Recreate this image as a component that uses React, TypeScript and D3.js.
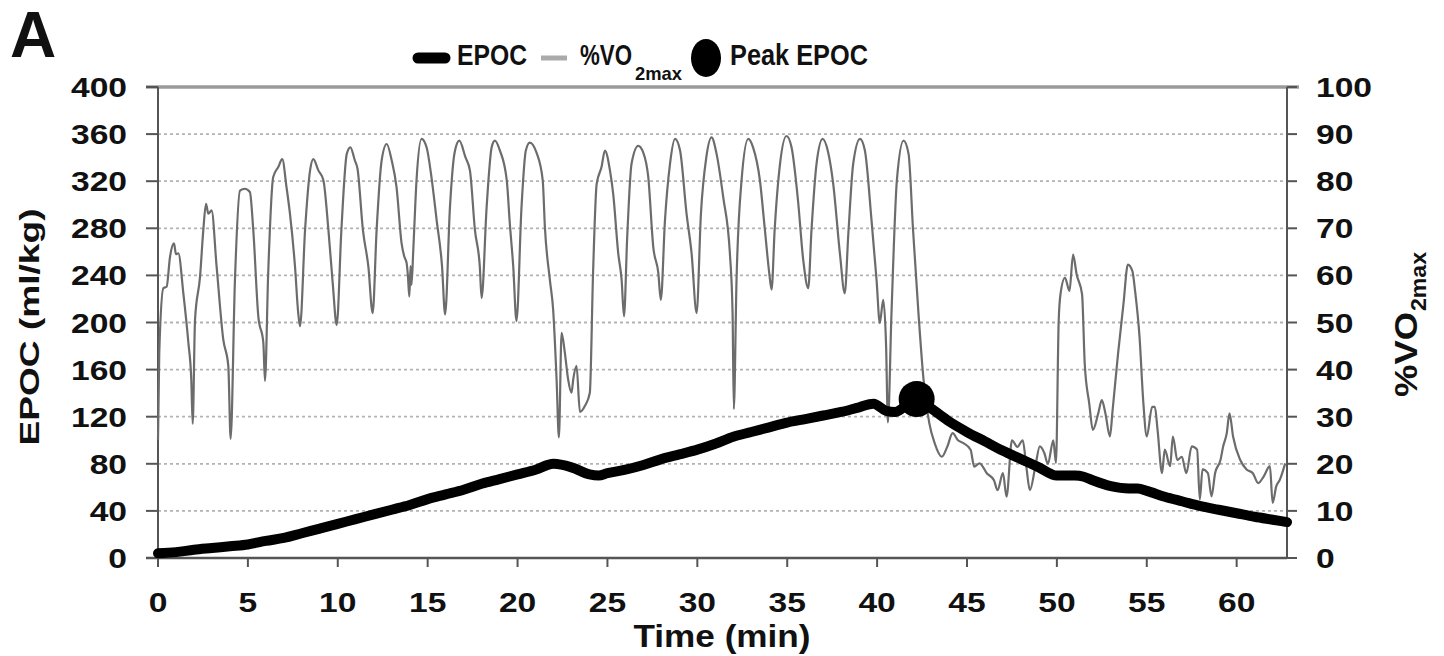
import React from "react";
import * as d3 from "d3";

// ---------- data ----------
const epocTime = [0, 1, 2, 3, 4, 5, 6, 7, 8, 9, 10, 11, 12, 13, 14, 15, 16, 17, 18, 19, 20, 21, 22, 23, 24, 24.5, 25, 26, 27, 28, 29, 30, 31, 32, 33, 34, 35, 36, 37, 38, 39, 39.8, 40.5, 41, 41.5, 42.2, 43, 44, 45, 46, 47, 48, 49, 50, 51, 51.5, 52, 53, 54, 54.5, 55, 56, 57, 58, 59, 60, 61, 62, 62.8];
const epocVal = [4, 5, 7, 8.5, 10, 11.5, 14.5, 17, 21, 25, 29, 33, 37, 41, 45, 50, 54, 58, 63, 67, 71, 75, 80, 77, 71, 70, 72, 75, 79, 84, 88, 92, 97, 103, 107, 111, 115, 118, 121, 124, 128, 131, 125, 124, 128, 135, 127, 116, 107, 99, 91, 84, 77, 70, 70, 69, 66, 61, 59, 59, 57, 52, 48, 44, 41, 38, 35, 32.5, 30.5];

const vo2Time = [0, 0.07, 0.3, 0.48, 0.67, 0.89, 1.0, 1.13, 1.41, 1.69, 1.85, 1.93, 2.06, 2.34, 2.52, 2.67, 2.8, 2.98, 3.26, 3.63, 3.91, 4.04, 4.28, 4.56, 4.83, 5.11, 5.3, 5.58, 5.86, 5.95, 6.13, 6.41, 6.69, 6.91, 7.15, 7.34, 7.62, 7.8, 7.9, 8.18, 8.46, 8.64, 8.92, 9.2, 9.48, 9.72, 9.94, 10.2, 10.5, 10.7, 10.95, 11.1, 11.4, 11.7, 11.94, 12.16, 12.44, 12.72, 13.0, 13.27, 13.55, 13.7, 13.83, 13.9, 13.98, 14.05, 14.1, 14.2, 14.38, 14.66, 14.94, 15.2, 15.5, 15.8, 15.97, 16.24, 16.5, 16.76, 17.1, 17.35, 17.63, 17.9, 18.0, 18.28, 18.56, 18.74, 19.02, 19.4, 19.57, 19.76, 19.94, 20.22, 20.46, 20.68, 21.05, 21.4, 21.52, 21.8, 21.98, 22.17, 22.3, 22.45, 22.63, 22.81, 23.0, 23.1, 23.28, 23.47, 23.75, 24.02, 24.2, 24.4, 24.67, 24.86, 25.14, 25.32, 25.6, 25.79, 25.92, 26.1, 26.34, 26.71, 26.99, 27.27, 27.55, 27.83, 27.97, 28.2, 28.48, 28.76, 29.04, 29.4, 29.68, 29.96, 30.2, 30.5, 30.79, 31.07, 31.44, 31.81, 31.96, 32.03, 32.18, 32.46, 32.83, 33.1, 33.48, 33.76, 34.0, 34.13, 34.3, 34.6, 34.96, 35.24, 35.6, 35.89, 36.17, 36.35, 36.63, 36.97, 37.28, 37.56, 37.93, 38.2, 38.4, 38.67, 39.05, 39.32, 39.69, 39.97, 40.15, 40.34, 40.5, 40.6, 40.8, 41.1, 41.47, 41.75, 42.0, 42.3, 42.58, 42.9, 43.2, 43.6, 43.9, 44.2, 44.5, 44.8, 45.2, 45.4, 45.7, 46.1, 46.5, 46.7, 47.0, 47.2, 47.5, 47.8, 48.1, 48.3, 48.5, 48.8, 49.05, 49.3, 49.5, 49.8, 49.95, 50.1, 50.2, 50.45, 50.7, 50.9, 51.1, 51.4, 51.55, 51.8, 52.0, 52.3, 52.5, 52.7, 52.95, 53.1, 53.4, 53.7, 53.95, 54.2, 54.35, 54.6, 54.8, 55.0, 55.3, 55.45, 55.6, 55.85, 56.0, 56.3, 56.45, 56.7, 56.95, 57.2, 57.5, 57.8, 57.95, 58.1, 58.4, 58.6, 58.8, 59.1, 59.25, 59.45, 59.6, 59.8, 60.2, 60.55, 60.9, 61.2, 61.5, 61.85, 62.0, 62.2, 62.4, 62.7];
const vo2Pct = [25, 43.6, 57.3, 57.6, 64, 66.8, 64.5, 64.7, 56.2, 45.7, 38, 28.5, 50.6, 59.8, 69.6, 75.2, 73.1, 73.8, 61.9, 46.4, 40.8, 25.3, 59, 78, 78.4, 77.7, 69.6, 51.3, 45.7, 37.6, 60.5, 80.9, 83, 84.7, 78.7, 73.1, 61.9, 52, 49.2, 69.6, 82.3, 84.7, 82.3, 80.2, 69.6, 58.3, 49.5, 69.6, 85.8, 87.2, 84.4, 82.6, 69.6, 61.9, 52, 69.6, 84.4, 87.9, 84.4, 78.7, 66.8, 64, 62.6, 60, 55.5, 62, 58, 65.4, 80.2, 89, 87.2, 81.2, 71.7, 61.9, 51.7, 74.5, 86.1, 88.6, 85.1, 82.3, 69.6, 61.9, 55.2, 74.5, 87.2, 88.6, 86.5, 80.2, 71, 61.9, 50.3, 74.5, 86.5, 88.2, 86.1, 80.2, 70.3, 59, 52.7, 38, 25.6, 47.8, 43.6, 38, 35.1, 38, 40.8, 31, 32.3, 35.1, 60.5, 79.4, 83, 86.5, 82.3, 77.3, 64.7, 59, 51.3, 68.2, 83.7, 87.5, 86.1, 80.9, 66, 60.5, 54.8, 71.7, 83.7, 89, 86.5, 73.1, 64.7, 52, 73.1, 85.1, 89.3, 85.8, 76.6, 64.7, 52, 31.6, 59, 80.2, 89, 87.2, 80.2, 69.6, 60.5, 57, 69.6, 83.7, 89.6, 87.2, 75.9, 63.3, 57.3, 69.6, 83.7, 89, 86.1, 79.4, 64.7, 56.2, 68.9, 83.7, 89, 86.5, 71.7, 59, 49.9, 54.8, 45, 28.8, 52, 80.2, 88.6, 85.8, 69.6, 52, 38, 28.7, 24.4, 21.5, 23.6, 26.5, 25, 24.4, 23, 19.4, 20.1, 18, 16.5, 14.4, 18, 13, 25, 23.6, 25, 19.4, 14.4, 19.4, 23.7, 22.3, 20, 25, 20.2, 50.3, 56, 59.5, 56.7, 64.4, 60.2, 56, 41.2, 32.8, 27.2, 30.7, 33.5, 30.7, 25.8, 31.4, 43.3, 53.8, 62.3, 60.9, 56.7, 46.8, 33.5, 25.8, 32.1, 32.1, 27.2, 18, 23, 19.5, 25.8, 20.8, 21.5, 18, 23.7, 23, 12.4, 18.8, 18, 13.1, 18, 20.8, 23.7, 26.5, 30.7, 25.8, 20.8, 18.8, 18, 15.9, 17.3, 19.5, 11.7, 15.2, 16.6, 20.1];

const peakTime = [42.2];
const peakVal = [135];

const xTicks = [0, 5, 10, 15, 20, 25, 30, 35, 40, 45, 50, 55, 60];
const leftTicks = [0, 40, 80, 120, 160, 200, 240, 280, 320, 360, 400];
const rightTicks = [0, 10, 20, 30, 40, 50, 60, 70, 80, 90, 100];

const FONT = "'Liberation Sans', Arial, Helvetica, sans-serif";

export default function App() {
  const x = d3.scaleLinear().domain([0, 62.8]).range([158, 1287]);
  const yL = d3.scaleLinear().domain([0, 400]).range([558, 87]);
  const yR = d3.scaleLinear().domain([0, 100]).range([558, 87]);

  const epocPts: [number, number][] = epocTime.map((t, i) => [t, epocVal[i]]);
  const vo2Pts: [number, number][] = vo2Time.map((t, i) => [t, vo2Pct[i]]);

  const epocLine = d3
    .line<[number, number]>()
    .x((d) => x(d[0]))
    .y((d) => yL(d[1]))
    .curve(d3.curveMonotoneX);
  const vo2Line = d3
    .line<[number, number]>()
    .x((d) => x(d[0]))
    .y((d) => yR(d[1]))
    .curve(d3.curveMonotoneX);

  const [x0, x1] = x.range();
  const yTop = yL(400);
  const yBot = yL(0);

  return (
    <svg
      width={1444}
      height={656}
      style={{ position: "absolute", left: 0, top: 0, background: "#fff" }}
      fontFamily={FONT}
      fontWeight="bold"
    >
      <rect x={0} y={0} width={1444} height={656} fill="#fff" />

      {/* panel letter */}
      <text x={10} y={57} fontSize={64} fill="#111">A</text>

      {/* gridlines */}
      {leftTicks
        .filter((v) => v > 0 && v < 400)
        .map((v) => (
          <line
            key={"g" + v}
            x1={x0}
            x2={x1}
            y1={yL(v)}
            y2={yL(v)}
            stroke="#b3b3b3"
            strokeWidth={1.8}
            strokeDasharray="3,3"
          />
        ))}

      {/* top border */}
      <line x1={146} x2={1299} y1={yTop} y2={yTop} stroke="#9a9a9a" strokeWidth={3.5} />

      {/* axes */}
      <line x1={x0} x2={x0} y1={yTop} y2={yBot} stroke="#555" strokeWidth={2} />
      <line x1={x1} x2={x1} y1={yTop} y2={yBot} stroke="#555" strokeWidth={2} />
      <line x1={146} x2={x1} y1={yBot} y2={yBot} stroke="#555" strokeWidth={2.5} />

      {/* left ticks + labels */}
      {leftTicks.map((v) => (
        <g key={"l" + v}>
          <line x1={146} x2={x0} y1={yL(v)} y2={yL(v)} stroke="#555" strokeWidth={2} />
          <g transform={`translate(127,${yL(v) + 10}) scale(1.2,1)`}>
            <text textAnchor="end" fontSize={28} fill="#111">{v}</text>
          </g>
        </g>
      ))}

      {/* right ticks + labels */}
      {rightTicks.map((v) => (
        <g key={"r" + v}>
          <line x1={x1} x2={1297} y1={yR(v)} y2={yR(v)} stroke="#555" strokeWidth={2} />
          <g transform={`translate(1316,${yR(v) + 10}) scale(1.2,1)`}>
            <text textAnchor="start" fontSize={28} fill="#111">{v}</text>
          </g>
        </g>
      ))}

      {/* x ticks + labels */}
      {xTicks.map((v) => (
        <g key={"x" + v}>
          <line x1={x(v)} x2={x(v)} y1={yBot} y2={yBot + 9} stroke="#555" strokeWidth={2} />
          <g transform={`translate(${x(v)},612) scale(1.2,1)`}>
            <text textAnchor="middle" fontSize={28} fill="#111">{v}</text>
          </g>
        </g>
      ))}

      {/* axis titles */}
      <text x={722} y={647} textAnchor="middle" fontSize={32} fill="#111" textLength={177} lengthAdjust="spacingAndGlyphs">
        Time (min)
      </text>
      <text
        transform="translate(39,327) rotate(-90)"
        textAnchor="middle"
        fontSize={27}
        fill="#111"
        textLength={237}
        lengthAdjust="spacingAndGlyphs"
      >
        EPOC (ml/kg)
      </text>
      <text
        transform="translate(1417,397) rotate(-90)"
        textAnchor="start"
        fontSize={32}
        fill="#111"
        textLength={85}
        lengthAdjust="spacingAndGlyphs"
      >
        %VO
      </text>
      <text
        transform="translate(1426,311) rotate(-90)"
        textAnchor="start"
        fontSize={22}
        fill="#111"
        textLength={59}
        lengthAdjust="spacingAndGlyphs"
      >
        2max
      </text>

      {/* data lines */}
      <path d={vo2Line(vo2Pts) || ""} fill="none" stroke="#6c6c6c" strokeWidth={2.2} strokeLinejoin="round" />
      <path d={epocLine(epocPts) || ""} fill="none" stroke="#000" strokeWidth={10} strokeLinejoin="round" strokeLinecap="round" />
      {peakTime.map((t, i) => (
        <circle key={"p" + i} cx={x(t)} cy={yL(peakVal[i])} r={18} fill="#000" />
      ))}

      {/* legend */}
      <line x1={418} x2={445} y1={58} y2={58} stroke="#000" strokeWidth={11} strokeLinecap="round" />
      <text x={457} y={65} fontSize={29} fill="#111" textLength={70} lengthAdjust="spacingAndGlyphs">EPOC</text>
      <line x1={541} x2={567} y1={58} y2={58} stroke="#aaa" strokeWidth={5} />
      <text x={580} y={65} fontSize={29} fill="#111" textLength={52} lengthAdjust="spacingAndGlyphs">%VO</text>
      <text x={635} y={80} fontSize={19} fill="#111" textLength={47} lengthAdjust="spacingAndGlyphs">2max</text>
      <ellipse cx={706} cy={58} rx={15} ry={19} fill="#000" />
      <text x={730} y={65} fontSize={29} fill="#111" textLength={138} lengthAdjust="spacingAndGlyphs">Peak EPOC</text>
    </svg>
  );
}
